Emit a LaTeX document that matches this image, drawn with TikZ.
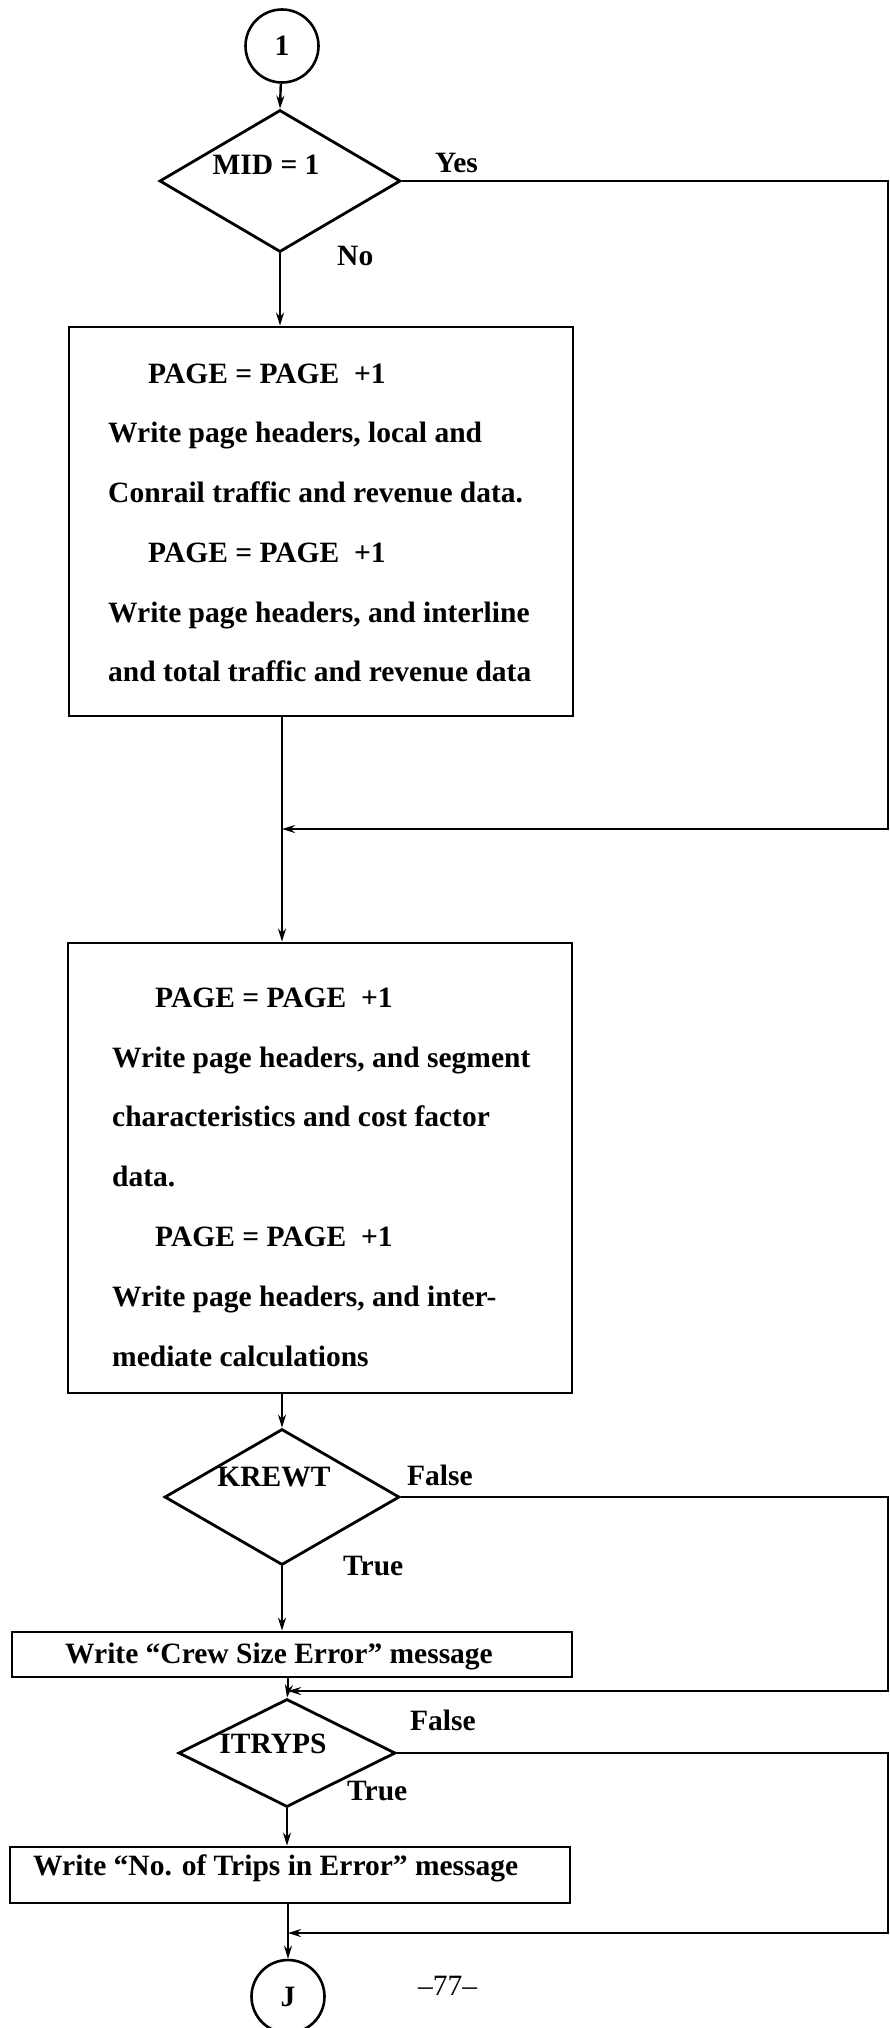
\documentclass[tikz,border=0pt]{standalone}
\usepackage{fontspec}
\setmainfont{Liberation Serif}
\usetikzlibrary{shapes.geometric,arrows.meta}
\newcommand\chartfont{\fontsize{29.5}{36}\selectfont\bfseries}
\begin{document}
\begin{tikzpicture}[x=1pt,y=-1pt,
  every node/.style={font=\chartfont},
  outline/.style={draw, line width=2.8pt},
  decision/.style={outline, diamond, inner sep=0pt},
  stepbox/.style={outline, rectangle, inner sep=0pt},
  connector/.style={draw, circle, line width=2.6pt, minimum size=73pt, inner sep=0pt},
  link/.style={line width=2.4pt},
  flow/.style={link, -{Stealth[length=13pt,width=8pt]}},
  txt/.style={anchor=base west, inner sep=0pt},
  ctr/.style={anchor=base, inner sep=0pt}]
\useasboundingbox (0,0) rectangle (890,2028);

% ---- shapes ----
\node[connector] (c1) at (282,46) {1};
\node[decision, minimum width=241pt, minimum height=142pt] (d1) at (280,181) {};
\node[stepbox, minimum width=504pt, minimum height=389pt] (box1) at (321,521.5) {};
\node[stepbox, minimum width=504pt, minimum height=450pt] (box2) at (320,1168) {};
\node[decision, minimum width=235pt, minimum height=136pt] (d2) at (282,1497) {};
\node[stepbox, minimum width=560pt, minimum height=45pt] (crew) at (292,1654.5) {};
\node[decision, minimum width=217pt, minimum height=108pt] (d3) at (287,1753) {};
\node[stepbox, minimum width=560pt, minimum height=56pt] (trips) at (290,1875) {};
\node[connector] (c2) at (288,1996.5) {J};

% ---- texts ----
\node[ctr] (t1) at (266,175) {MID = 1};
\node[txt] (yes) at (435,173) {Yes};
\node[txt] (no) at (337,265) {No};

\node[txt] (b1a) at (148,383) {PAGE = PAGE~ +1};
\node[txt] (b1b) at (108,442) {Write page headers, local and};
\node[txt] (b1c) at (108,502) {Conrail traffic and revenue data.};
\node[txt] (b1d) at (148,562) {PAGE = PAGE~ +1};
\node[txt] (b1e) at (108,622) {Write page headers, and interline};
\node[txt] (b1f) at (108,681) {and total traffic and revenue data};

\node[txt] (b2a) at (155,1007) {PAGE = PAGE~ +1};
\node[txt] (b2b) at (112,1067) {Write page headers, and segment};
\node[txt] (b2c) at (112,1126) {characteristics and cost factor};
\node[txt] (b2d) at (112,1186) {data.};
\node[txt] (b2e) at (155,1246) {PAGE = PAGE~ +1};
\node[txt] (b2f) at (112,1306) {Write page headers, and inter-};
\node[txt] (b2g) at (112,1366) {mediate calculations};

\node[ctr] (t2) at (274,1486) {KREWT};
\node[txt] (f1) at (407,1485) {False};
\node[txt] (tr1) at (343,1575) {True};
\node[txt] (crewtxt) at (65,1663) {Write “Crew Size Error” message};

\node[ctr] (t3) at (273,1753) {ITRYPS};
\node[txt] (f2) at (410,1730) {False};
\node[txt] (tr2) at (347,1800) {True};
\node[txt] (tripstxt) at (33,1875) {Write “No. of Trips in Error” message};

\node[txt, font=\fontsize{29.5}{36}\selectfont] (pg) at (418,1995) {--77--};

% ---- junction points ----
\coordinate (m1) at (282,829);
\coordinate (r1) at (888,829);
\coordinate (m2) at (288,1691);
\coordinate (r2) at (888,1691);
\coordinate (m3) at (288,1933);
\coordinate (r3) at (888,1933);

% ---- connectors ----
\draw[flow] (c1) -- (d1.north);
\draw[flow] (d1.south) -- (d1.south |- box1.north);
\draw[flow] (d1.east) -| (r1) -- (m1);
\draw[link] (m1 |- box1.south) -- (m1);
\draw[flow] (m1) -- (m1 |- box2.north);
\draw[flow] (d2.north |- box2.south) -- (d2.north);
\draw[flow] (d2.south) -- (d2.south |- crew.north);
\draw[flow] (d2.east) -| (r2) -- (m2);
\draw[link] (m2 |- crew.south) -- (m2);
\draw[flow] (m2) -- (d3.north);
\draw[flow] (d3.south) -- (d3.south |- trips.north);
\draw[flow] (d3.east) -| (r3) -- (m3);
\draw[link] (m3 |- trips.south) -- (m3);
\draw[flow] (m3) -- (c2.north);
\end{tikzpicture}
\end{document}
